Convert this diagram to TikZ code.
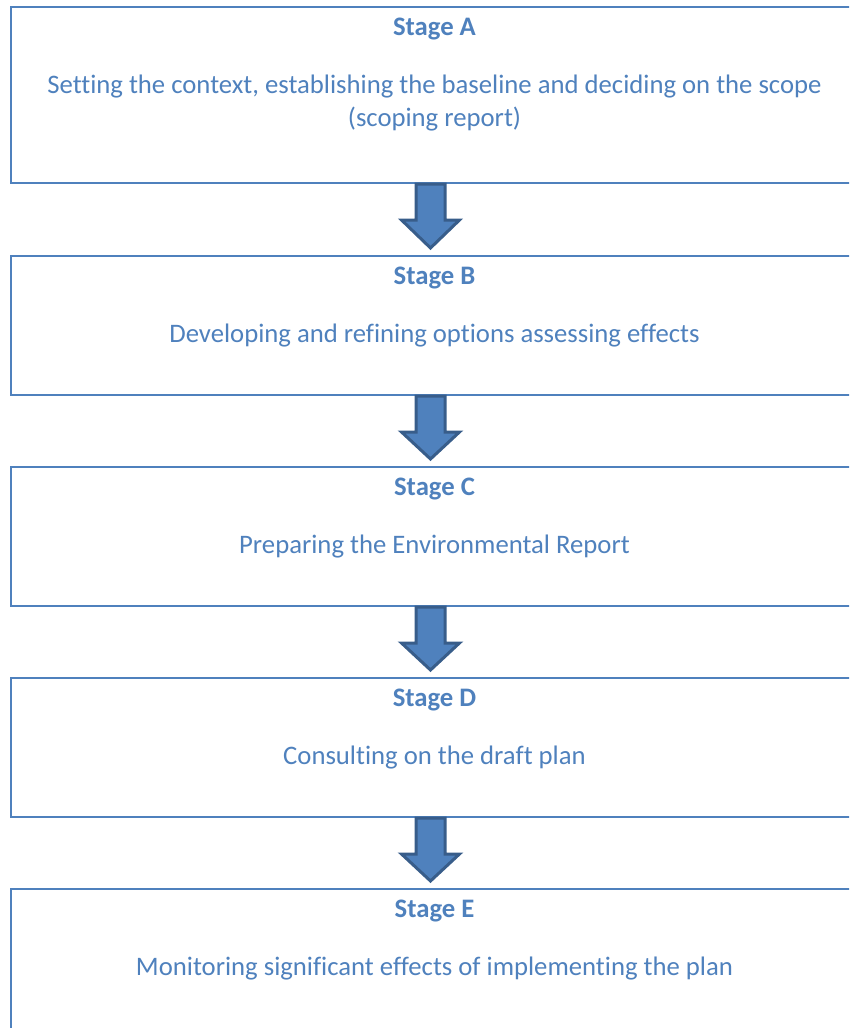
\documentclass[tikz,border=0pt]{standalone}
\usepackage{fontspec}
\setmainfont[Ligatures=NoCommon]{Carlito}
\usetikzlibrary{calc}
\definecolor{acc}{HTML}{4F81BD}
\definecolor{accdark}{HTML}{385D8A}
\tikzset{
  stagebox/.style={draw=acc, line width=2pt, minimum width=847pt, inner sep=0pt},
  stagetitle/.style={font=\fontsize{26.7}{33}\selectfont\bfseries, text=acc, anchor=base, inner sep=0pt},
  stagetext/.style={font=\fontsize{26.7}{33}\selectfont, text=acc, anchor=base, inner sep=0pt, align=center},
  blockarrow/.style={fill=acc, draw=accdark, line width=3pt, line join=miter}
}
\newcommand{\flowarrow}[2]{%
  \draw[blockarrow] ($(#1.south)+(-18.5,0)$) -- ($(#1.south)+(-18.5,36)$) -- ($(#1.south)+(-33,36)$)
    -- ($(#2.north)+(-4,-7)$) -- ($(#1.south)+(25,36)$) -- ($(#1.south)+(10.5,36)$)
    -- ($(#1.south)+(10.5,0)$) -- cycle;}
\begin{document}
\begin{tikzpicture}[x=1pt,y=-1pt]
\useasboundingbox (0,0) rectangle (849,1028);
\begin{scope}
\clip (0,0) rectangle (849,1028);
\node[stagebox, minimum height=176pt] (A) at (434.5,95) {};
\node[stagebox, minimum height=139pt] (B) at (434.5,325.5) {};
\node[stagebox, minimum height=139pt] (C) at (434.5,536.5) {};
\node[stagebox, minimum height=139pt] (D) at (434.5,747.5) {};
\node[stagebox, minimum height=160pt] (E) at (434.5,969) {};
\end{scope}

\node[stagetitle] (tA) at ($(A.north)+(0,29)$) {Stage A};
\node[stagetext] (xA) at ($(A.north)+(0,120.5)$) {Setting the context, establishing the baseline and deciding on the scope\\(scoping report)};
\node[stagetitle] (tB) at ($(B.north)+(0,29)$) {Stage B};
\node[stagetext] (xB) at ($(B.north)+(0,87.5)$) {Developing and refining options assessing effects};
\node[stagetitle] (tC) at ($(C.north)+(0,29)$) {Stage C};
\node[stagetext] (xC) at ($(C.north)+(0,87.5)$) {Preparing the Environmental Report};
\node[stagetitle] (tD) at ($(D.north)+(0,29)$) {Stage D};
\node[stagetext] (xD) at ($(D.north)+(0,87.5)$) {Consulting on the draft plan};
\node[stagetitle] (tE) at ($(E.north)+(0,29)$) {Stage E};
\node[stagetext] (xE) at ($(E.north)+(0,87.5)$) {Monitoring significant effects of implementing the plan};

\flowarrow{A}{B}
\flowarrow{B}{C}
\flowarrow{C}{D}
\flowarrow{D}{E}
\end{tikzpicture}
\end{document}
